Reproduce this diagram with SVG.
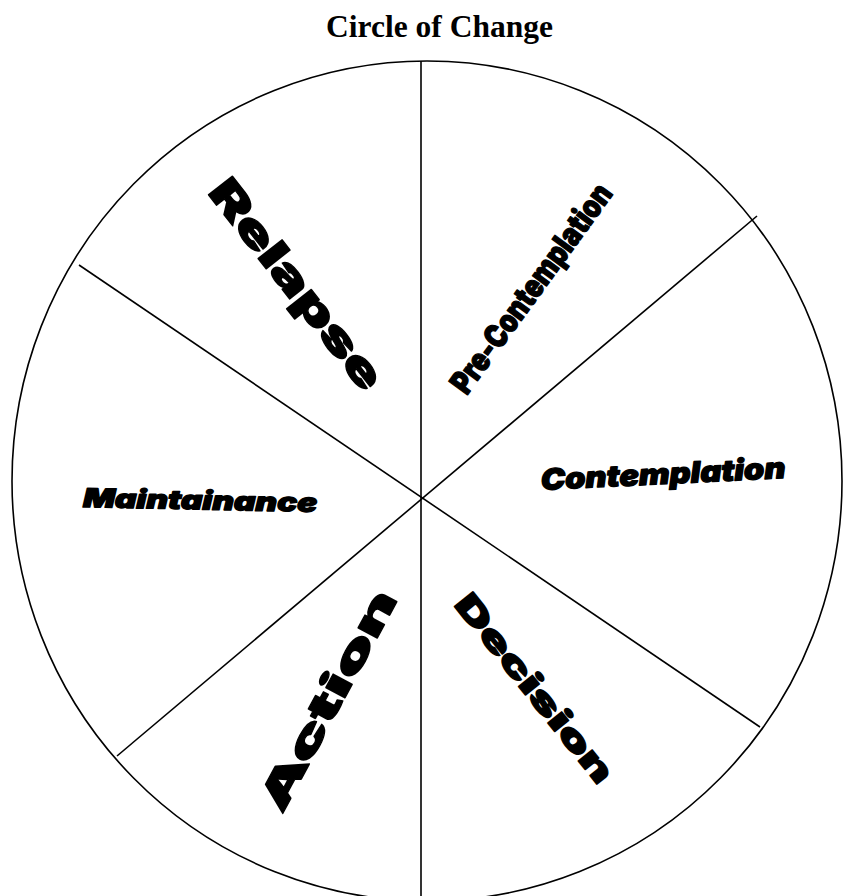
<svg xmlns="http://www.w3.org/2000/svg" width="845" height="896" viewBox="0 0 845 896">
<style>
.title{font-family:"Liberation Serif","Times New Roman",serif;font-weight:bold;font-size:31.5px;fill:#000}
.lbl{font-family:"Arial Black",Inter,Lato,"DejaVu Sans",sans-serif;font-weight:900;fill:#000;stroke:#000;stroke-width:1.3;stroke-linejoin:round}
.ital{font-style:italic}
.ln{stroke:#000;stroke-width:1.6;fill:none}
</style>
<rect width="845" height="896" fill="#fff"/>
<text id="title" class="title" x="439.5" y="37" text-anchor="middle">Circle of Change</text>
<g id="circle">
<ellipse class="ln" cx="427" cy="481" rx="415" ry="420"/>
</g>
<g id="connectors">
<line class="ln" x1="421" y1="61" x2="421" y2="896"/>
<line class="ln" x1="79" y1="265" x2="760" y2="727"/>
<line class="ln" x1="757" y1="216" x2="117" y2="756"/>
</g>
<g id="pre-contemplation">
<text class="lbl" transform="translate(531,288) rotate(-54)" x="0" y="11.5" font-size="32" text-anchor="middle" textLength="250" lengthAdjust="spacingAndGlyphs">Pre-Contemplation</text>
</g>
<g id="contemplation">
<text class="lbl ital" transform="translate(663.5,484) rotate(-2.8)" x="0" y="0" font-size="29" text-anchor="middle" textLength="245" lengthAdjust="spacingAndGlyphs">Contemplation</text>
</g>
<g id="decision">
<text class="lbl" transform="translate(535,688) rotate(51.3)" x="0" y="12" font-size="33" text-anchor="middle" textLength="232" lengthAdjust="spacingAndGlyphs">Decision</text>
</g>
<g id="action">
<text class="lbl" transform="translate(328,700) rotate(-61.7)" x="0" y="14" font-size="40" text-anchor="middle" textLength="245" lengthAdjust="spacingAndGlyphs">Action</text>
</g>
<g id="maintainance">
<text class="lbl ital" transform="translate(200,509.5) rotate(1.2)" x="0" y="0" font-size="26" text-anchor="middle" textLength="234" lengthAdjust="spacingAndGlyphs">Maintainance</text>
</g>
<g id="relapse">
<text class="lbl" transform="translate(297,284) rotate(52)" x="0" y="15" font-size="42" text-anchor="middle" textLength="255" lengthAdjust="spacingAndGlyphs">Relapse</text>
</g>
</svg>
